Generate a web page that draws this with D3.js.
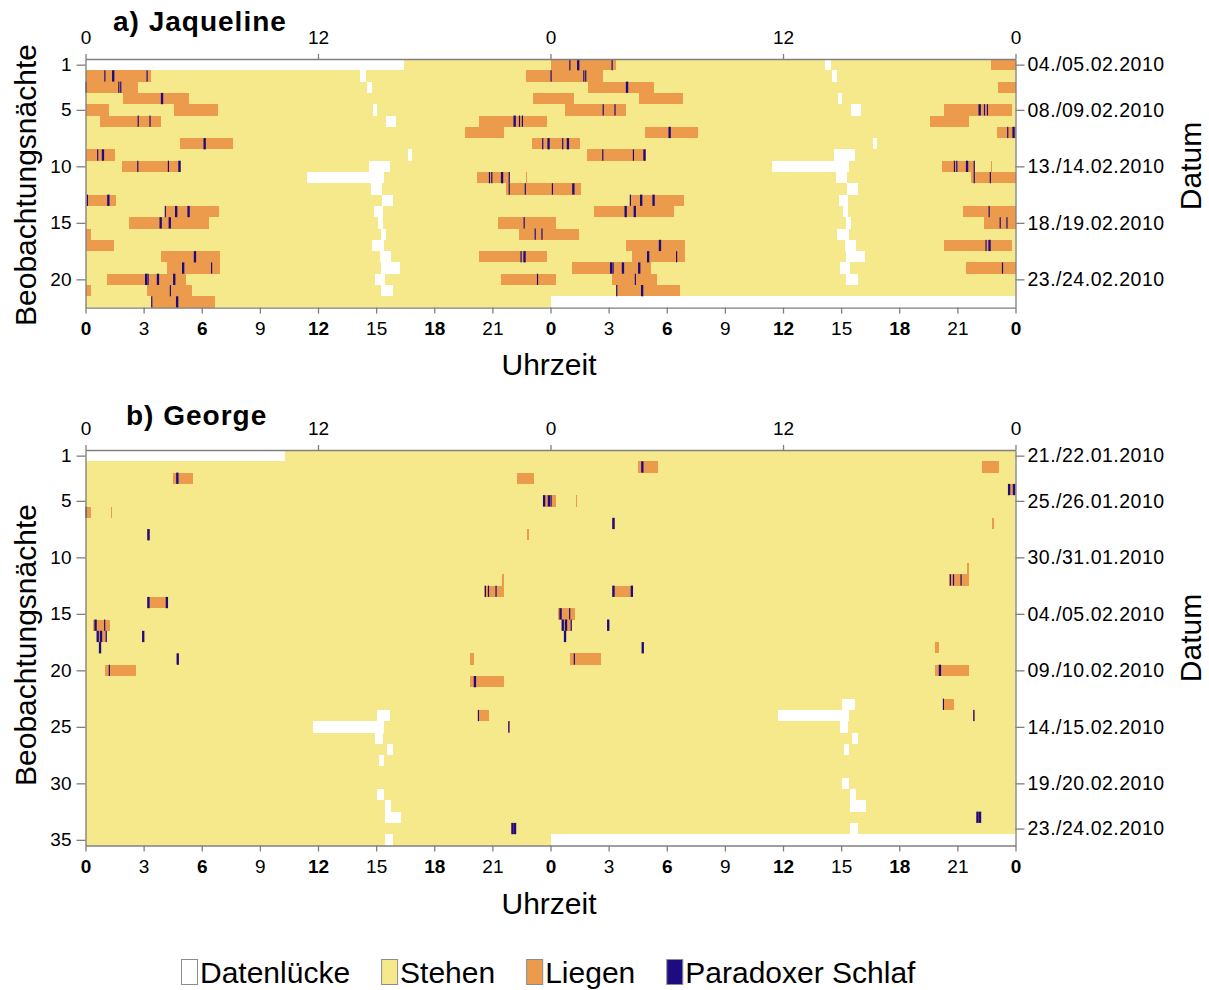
<!DOCTYPE html>
<html>
<head>
<meta charset="utf-8">
<script src="https://cdn.jsdelivr.net/npm/d3@7"></script>
<style>
  body { margin: 0; background: #fff; }
  svg text { font-family: "Liberation Sans", Arial, Helvetica, sans-serif; fill: #000; }
</style>
</head>
<body>
<svg id="chart" width="1209" height="990"></svg>
<script>
// ---------------- data ----------------
// Records are [day, startHour, endHour]; day n is drawn on row n (left, 0-24 h)
// and again on row n-1 (right, 24-48 h) — a double-plotted actogram.

const hourTicks = d3.range(0, 49, 3);
const topHourTicks = [0, 12, 24, 36, 48];

// a) Jaqueline — 22 observation nights
const jaqRows = 22;
const jaqNightTicks = [1, 5, 10, 15, 20];
const jaqDateRows = [1, 5, 10, 15, 20];
const jaqDateLabels = ["04./05.02.2010", "08./09.02.2010", "13./14.02.2010", "18./19.02.2010", "23./24.02.2010"];

const jaqLying = [
  [2, 0.03, 3.4], [2, 22.75, 24],
  [3, 0, 2.72],
  [4, 1.95, 5.33], [4, 23.1, 24],
  [5, 0, 1.2], [5, 4.56, 6.85],
  [6, 0.73, 3.92], [6, 20.33, 23.84],
  [7, 19.58, 21.6],
  [8, 4.88, 7.6], [8, 23.07, 24],
  [9, 0, 1.52],
  [10, 1.9, 4.94],
  [11, 20.2, 21.92], [11, 22.75, 22.8],
  [12, 21.72, 24],
  [13, 0, 1.55],
  [14, 4.1, 6.87],
  [15, 2.23, 6.37], [15, 21.28, 24],
  [16, 0, 0.3], [16, 22.37, 24],
  [17, 0, 1.45],
  [18, 3.9, 6.96], [18, 20.29, 23.8],
  [19, 4.2, 6.95],
  [20, 1.09, 5.2], [20, 21.45, 24],
  [21, 0, 0.3], [21, 3.18, 5.49],
  [22, 3.4, 6.7]
];

const jaqRem = [
  [2, 0.97, 1.03], [2, 1.37, 1.49], [2, 3.15, 3.21],
  [3, 0.0, 0.06], [3, 1.69, 1.75], [3, 1.79, 1.85],
  [4, 3.89, 4.01],
  [6, 2.69, 2.75], [6, 3.3, 3.36], [6, 22.09, 22.21], [6, 22.37, 22.43], [6, 22.52, 22.58],
  [8, 6.09, 6.21], [8, 23.57, 23.63], [8, 23.84, 23.96],
  [9, 0.6, 0.66], [9, 0.84, 0.96],
  [10, 2.67, 2.73], [10, 4.25, 4.31], [10, 4.79, 4.91],
  [11, 20.82, 20.88], [11, 20.94, 21.0], [11, 21.44, 21.56], [11, 21.84, 21.9],
  [12, 21.84, 21.9], [12, 22.67, 22.73],
  [13, 0.07, 0.13], [13, 1.12, 1.24],
  [14, 4.09, 4.15], [14, 4.62, 4.74], [14, 5.26, 5.38],
  [15, 3.82, 3.94], [15, 4.29, 4.41], [15, 22.61, 22.67],
  [16, 23.18, 23.24], [16, 23.53, 23.59],
  [18, 5.59, 5.71], [18, 22.45, 22.51], [18, 22.6, 22.72],
  [19, 4.98, 5.1], [19, 6.48, 6.54],
  [20, 3.07, 3.19], [20, 3.2, 3.26], [20, 3.68, 3.8], [20, 4.52, 4.64], [20, 23.3, 23.36],
  [21, 4.35, 4.41],
  [22, 3.39, 3.45], [22, 4.67, 4.79]
];

const jaqGaps = [
  [1, 0, 16.45], [2, 14.17, 14.47], [3, 14.52, 14.8], [5, 14.85, 15.07],
  [6, 15.52, 16.02], [9, 16.66, 16.83], [10, 14.65, 15.72], [11, 11.42, 15.4],
  [12, 14.76, 15.3], [13, 15.32, 15.87], [14, 14.91, 15.37], [15, 15.1, 15.33],
  [16, 15.25, 15.53], [17, 14.78, 15.42], [18, 15.19, 15.76], [19, 15.27, 16.24],
  [20, 14.93, 15.47], [21, 15.27, 15.88], [23, 0, 24]
];

// b) George — 35 observation nights
const geoRows = 35;
const geoNightTicks = [1, 5, 10, 15, 20, 25, 30, 35];
const geoDateRows = [1, 5, 10, 15, 20, 25, 30, 34];
const geoDateLabels = ["21./22.01.2010", "25./26.01.2010", "30./31.01.2010", "04./05.02.2010",
                       "09./10.02.2010", "14./15.02.2010", "19./20.02.2010", "23./24.02.2010"];

const geoLying = [
  [3, 4.5, 5.53], [3, 22.25, 23.17],
  [5, 23.6, 24],
  [6, 0, 0.3], [6, 1.3, 1.37],
  [8, 3.16, 3.34], [8, 22.8, 22.9],
  [12, 21.5, 21.58],
  [13, 20.57, 21.58],
  [14, 3.18, 4.27],
  [16, 0.38, 1.25],
  [17, 0.58, 1.13], [17, 2.93, 3.03],
  [18, 0.7, 0.8],
  [19, 4.7, 4.82], [19, 19.85, 20.06],
  [20, 1.0, 2.63],
  [21, 19.82, 21.6],
  [24, 20.24, 20.8],
  [25, 21.82, 21.9],
  [34, 21.98, 22.22]
];

const geoRem = [
  [3, 4.68, 4.8],
  [5, 23.61, 23.73], [5, 23.86, 23.98],
  [6, 0.0, 0.06],
  [8, 3.19, 3.31],
  [13, 20.61, 20.67], [13, 20.77, 20.83], [13, 21.16, 21.22],
  [14, 3.19, 3.31], [14, 4.14, 4.26],
  [16, 0.46, 0.58], [16, 0.96, 1.02],
  [17, 0.57, 0.69], [17, 0.74, 0.86], [17, 1.04, 1.1], [17, 2.92, 3.04],
  [18, 0.69, 0.81],
  [19, 4.7, 4.82],
  [20, 1.2, 1.26],
  [21, 20.04, 20.16],
  [24, 20.25, 20.31],
  [25, 21.82, 21.88],
  [34, 21.98, 22.1], [34, 22.11, 22.23]
];

const geoGaps = [
  [1, 0, 10.3], [24, 15.05, 15.72], [25, 11.76, 15.4], [26, 14.92, 15.38],
  [27, 15.57, 15.87], [28, 15.14, 15.4], [31, 15.07, 15.42], [32, 15.45, 15.78],
  [33, 15.45, 16.28], [35, 15.45, 15.87], [36, 0, 24]
];

const legendLabels = ["Datenlücke", "Stehen", "Liegen", "Paradoxer Schlaf"];
const legendColors = ["#ffffff", "#f5e98c", "#ec9a4b", "#1d0b80"];

// ---------------- drawing ----------------
const COL = { gap: legendColors[0], stand: legendColors[1], lie: legendColors[2], rem: legendColors[3], axis: "#7f7f7f" };
const ROW_H = 11.3;
const svg = d3.select("#chart");
const x = d3.scaleLinear().domain([0, 48]).range([85.5, 1015.5]);

function styleAxis(sel, fontSize) {
  sel.select(".domain").attr("stroke", COL.axis).attr("stroke-width", 1.3);
  sel.selectAll(".tick line").attr("stroke", COL.axis).attr("stroke-width", 1.3);
  sel.selectAll(".tick text").attr("font-size", fontSize).attr("fill", "#000");
}

function drawPanel(o) {
  const n = o.rows;
  const y = d3.scaleLinear().domain([0.5, n + 0.5]).range([o.top, o.top + n * ROW_H]);
  const g = svg.append("g");

  // each day appears on its own row (left half) and on the previous row (right half)
  const place = recs => {
    const out = [];
    recs.forEach(([d, s, e]) => {
      if (d <= n) out.push({ row: d, s, e });
      if (d - 1 >= 1) out.push({ row: d - 1, s: s + 24, e: e + 24 });
    });
    return out;
  };
  const rowTop = d => y(d.row - 0.5);
  const rowH = y(1.5) - y(0.5);

  // standing is the default state
  g.append("rect")
    .attr("x", x(0)).attr("y", y(0.5))
    .attr("width", x(48) - x(0)).attr("height", y(n + 0.5) - y(0.5))
    .attr("fill", COL.stand);

  g.append("g").selectAll("rect").data(place(o.gaps)).join("rect")
    .attr("x", d => x(d.s)).attr("width", d => x(d.e) - x(d.s))
    .attr("y", rowTop).attr("height", rowH)
    .attr("fill", COL.gap).attr("shape-rendering", "crispEdges");

  g.append("g").selectAll("rect").data(place(o.lying)).join("rect")
    .attr("x", d => x(d.s)).attr("width", d => x(d.e) - x(d.s))
    .attr("y", rowTop).attr("height", rowH)
    .attr("fill", COL.lie).attr("shape-rendering", "crispEdges");

  g.append("g").selectAll("rect").data(place(o.rem)).join("rect")
    .attr("x", d => x(d.s)).attr("width", d => x(d.e) - x(d.s))
    .attr("y", rowTop).attr("height", rowH)
    .attr("fill", COL.rem);

  // axes
  const fmtHour = h => String(h % 24);
  const top = g.append("g").attr("transform", `translate(0,${y(0.5)})`)
    .call(d3.axisTop(x).tickValues(topHourTicks).tickFormat(fmtHour).tickSize(5).tickSizeOuter(0).tickPadding(10));
  styleAxis(top, 19);

  const bottom = g.append("g").attr("transform", `translate(0,${y(n + 0.5)})`)
    .call(d3.axisBottom(x).tickValues(hourTicks).tickFormat(fmtHour).tickSize(6).tickSizeOuter(0).tickPadding(8));
  styleAxis(bottom, 19);
  bottom.selectAll(".tick text").attr("font-weight", d => (d % 6 === 0 ? "bold" : "normal"));

  const left = g.append("g").attr("transform", `translate(${x(0)},0)`)
    .call(d3.axisLeft(y).tickValues(o.nightTicks).tickFormat(d3.format("d")).tickSize(9).tickSizeOuter(0).tickPadding(5));
  styleAxis(left, 19);

  const right = g.append("g").attr("transform", `translate(${x(48)},0)`)
    .call(d3.axisRight(y).tickValues(o.dateRows).tickFormat((d, i) => o.dateLabels[i]).tickSize(9).tickSizeOuter(0).tickPadding(3));
  styleAxis(right, 19.5);
  right.selectAll(".tick text").attr("letter-spacing", "0.5px");

  // titles and axis labels
  g.append("text").attr("x", o.titleX).attr("y", o.titleY)
    .attr("font-size", 28).attr("font-weight", "bold").attr("letter-spacing", "1px")
    .text(o.title);

  g.append("text").attr("transform", `translate(36,${o.yLabelY}) rotate(-90)`)
    .attr("text-anchor", "middle").attr("font-size", 30).text("Beobachtungsnächte");

  g.append("text").attr("transform", `translate(1201,${o.datumY}) rotate(-90)`)
    .attr("text-anchor", "middle").attr("font-size", 30).text("Datum");

  g.append("text").attr("x", 549).attr("y", o.xLabelY)
    .attr("text-anchor", "middle").attr("font-size", 30).text("Uhrzeit");
}

drawPanel({
  top: 59, rows: jaqRows, lying: jaqLying, rem: jaqRem, gaps: jaqGaps,
  nightTicks: jaqNightTicks, dateRows: jaqDateRows, dateLabels: jaqDateLabels,
  title: "a) Jaqueline", titleX: 113, titleY: 31, yLabelY: 185, datumY: 166, xLabelY: 375
});

drawPanel({
  top: 450, rows: geoRows, lying: geoLying, rem: geoRem, gaps: geoGaps,
  nightTicks: geoNightTicks, dateRows: geoDateRows, dateLabels: geoDateLabels,
  title: "b) George", titleX: 126, titleY: 425, yLabelY: 645, datumY: 638, xLabelY: 914
});

// legend
const legend = svg.append("g");
let lx = 181;
legendLabels.forEach((label, i) => {
  legend.append("rect")
    .attr("x", lx + 0.5).attr("y", 959.5).attr("width", 16).attr("height", 25)
    .attr("fill", legendColors[i]).attr("stroke", "#8c8c8c").attr("stroke-width", 1);
  const t = legend.append("text").attr("x", lx + 19).attr("y", 983)
    .attr("font-size", 30).text(label);
  lx += 19 + t.node().getComputedTextLength() + 31;
});
</script>
</body>
</html>
